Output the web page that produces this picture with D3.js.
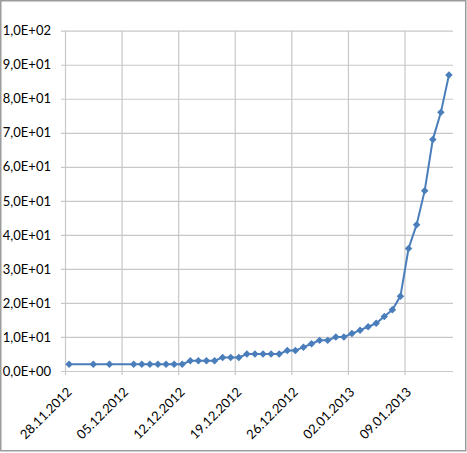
<!DOCTYPE html>
<html>
<head>
<meta charset="utf-8">
<script src="https://cdn.jsdelivr.net/npm/d3@7"></script>
<style>
  body { margin: 0; background: #fff; }
  svg { display: block; }
  text { font-family: "Lato", "Liberation Sans", sans-serif; font-size: 13px; fill: #000; }
</style>
</head>
<body>
<svg id="chart" width="467" height="453"></svg>
<script>
// dates of the measurements (dd.mm.yyyy)
const dates = [
  "28.11.2012", "01.12.2012", "03.12.2012", "06.12.2012", "07.12.2012",
  "08.12.2012", "09.12.2012", "10.12.2012", "11.12.2012", "12.12.2012",
  "13.12.2012", "14.12.2012", "15.12.2012", "16.12.2012", "17.12.2012",
  "18.12.2012", "19.12.2012", "20.12.2012", "21.12.2012", "22.12.2012",
  "23.12.2012", "24.12.2012", "25.12.2012", "26.12.2012", "27.12.2012",
  "28.12.2012", "29.12.2012", "30.12.2012", "31.12.2012", "01.01.2013",
  "02.01.2013", "03.01.2013", "04.01.2013", "05.01.2013", "06.01.2013",
  "07.01.2013", "08.01.2013", "09.01.2013", "10.01.2013", "11.01.2013",
  "12.01.2013", "13.01.2013", "14.01.2013"
];
const values = [
  2, 2, 2, 2, 2,
  2, 2, 2, 2, 2,
  3, 3, 3, 3, 4,
  4, 4, 5, 5, 5,
  5, 5, 6, 6, 7,
  8, 9, 9, 10, 10,
  11, 12, 13, 14, 16,
  18, 22, 36, 43, 53,
  68, 76, 87
];
const xTickLabels = ["28.11.2012", "05.12.2012", "12.12.2012", "19.12.2012", "26.12.2012", "02.01.2013", "09.01.2013"];
const yTicks = [0, 10, 20, 30, 40, 50, 60, 70, 80, 90, 100];

const parse = d3.timeParse("%d.%m.%Y");
const data = dates.map((d, i) => ({ date: parse(d), value: values[i] }));

const plotLeft = 65, plotRight = 453, plotTop = 30.7, plotBottom = 371;
const svg = d3.select("#chart");

const x = d3.scaleTime()
  .domain([parse("28.11.2012"), parse("15.01.2013")])
  .range([plotLeft, plotRight]);
const y = d3.scaleLinear().domain([0, 100]).range([plotBottom, plotTop]);

// "1,0E+02" style labels
const sci = v => {
  if (v === 0) return "0,0E+00";
  const e = Math.floor(Math.log10(v));
  const m = (v / Math.pow(10, e)).toFixed(1).replace(".", ",");
  return m + "E" + (e < 0 ? "-" : "+") + String(Math.abs(e)).padStart(2, "0");
};

// outer frame
svg.append("rect")
  .attr("x", 0.75).attr("y", 0.75)
  .attr("width", 465).attr("height", 450)
  .attr("fill", "none")
  .attr("stroke", "#9c9c9c")
  .attr("stroke-width", 1.5);

// horizontal gridlines + y labels
const gy = svg.append("g")
  .attr("transform", `translate(${plotLeft - 4},0)`)
  .call(d3.axisLeft(y).tickValues(yTicks).tickFormat(sci)
    .tickSize(-(plotRight - plotLeft + 4)).tickPadding(10));
gy.select(".domain").remove();
gy.selectAll("line").attr("stroke", "#c8c8c8").attr("stroke-width", 1.2);
gy.attr("font-size", null).attr("font-family", null);

// vertical gridlines
const xTicks = xTickLabels.map(parse);
const gx = svg.append("g")
  .attr("transform", `translate(0,${plotBottom + 4})`)
  .call(d3.axisBottom(x).tickValues(xTicks).tickFormat("")
    .tickSize(-(plotBottom + 4 - plotTop)));
gx.select(".domain").remove();
gx.selectAll("line").attr("stroke", "#c8c8c8").attr("stroke-width", 1.2);

// rotated date labels
svg.append("g").selectAll("text")
  .data(xTickLabels)
  .join("text")
  .attr("text-anchor", "end")
  .attr("transform", d => `translate(${x(parse(d)) + 7.5},${plotBottom + 22}) rotate(-45)`)
  .text(d => d);

// series line
const mid = d => d3.timeHour.offset(d.date, 12);
const line = d3.line().x(d => x(mid(d))).y(d => y(d.value));
svg.append("path")
  .datum(data)
  .attr("fill", "none")
  .attr("stroke", "#4a7ebb")
  .attr("stroke-width", 2)
  .attr("d", line);

// diamond markers
const marker = d3.symbol(d3.symbolSquare, 28);
svg.append("g").selectAll("path")
  .data(data)
  .join("path")
  .attr("d", marker)
  .attr("fill", "#4a7ebb")
  .attr("transform", d => `translate(${x(mid(d))},${y(d.value)}) rotate(45)`);
</script>
</body>
</html>
